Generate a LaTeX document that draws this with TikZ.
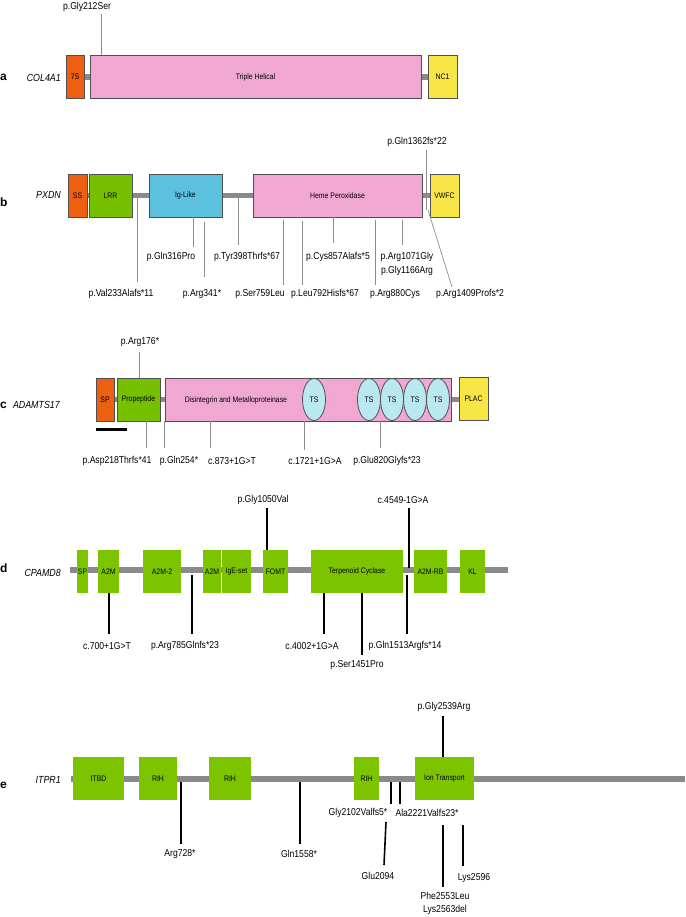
\documentclass[tikz,border=0pt]{standalone}
\usepackage{fontspec}
\setmainfont{Liberation Sans}
\newfontfamily\narrowsans{Liberation Sans}[FakeStretch=0.86]
\usetikzlibrary{shapes.geometric}
\definecolor{domorange}{HTML}{EE6011}
\definecolor{domgreen}{HTML}{77C000}
\definecolor{flatgreen}{HTML}{7DC400}
\definecolor{domblue}{HTML}{5CC0DF}
\definecolor{dompink}{HTML}{F0A8D2}
\definecolor{domyellow}{HTML}{F8E546}
\definecolor{tscyan}{HTML}{B9E8F1}
\definecolor{spinegray}{HTML}{8A8A8A}
\definecolor{mutgray}{HTML}{8C8C8C}
\definecolor{boxline}{HTML}{505050}
\begin{document}
\begin{tikzpicture}[x=1pt, y=-1pt,
  dom/.style={draw=boxline, line width=0.8pt, minimum height=43, inner sep=0, font=\narrowsans\fontsize{8}{9}\selectfont},
  flat/.style={fill=flatgreen, minimum height=43, inner sep=0, font=\narrowsans\fontsize{8}{9}\selectfont},
  ts/.style={ellipse, draw=boxline, line width=0.8pt, fill=tscyan, minimum width=23, minimum height=42, inner sep=0, font=\narrowsans\fontsize{8}{9}\selectfont},
  spine/.style={draw=spinegray, line width=5.5pt},
  thinmut/.style={draw=mutgray, line width=0.7pt},
  thickmut/.style={draw=black, line width=1.6pt},
  lbl/.style={inner sep=0, font=\narrowsans\fontsize{10}{13.5}\selectfont, align=center},
  gene/.style={anchor=east, inner sep=0, font=\narrowsans\itshape\fontsize{10.3}{11}\selectfont},
  panel/.style={anchor=west, inner sep=0, font=\bfseries\fontsize{12}{13}\selectfont}]
\useasboundingbox (0,0) rectangle (685,917);
\node[panel] (pa) at (0,77) {a};
\node[gene] (ga) at (61,78) {COL4A1};
\draw[spine] (84,77) -- (428,77);
\node[dom, fill=domorange, minimum width=18] (s7) at (75,77) {7S};
\node[dom, fill=dompink, minimum width=331] (th) at (255.5,77) {Triple Helical};
\node[dom, fill=domyellow, minimum width=29] (nc1) at (442.5,77) {NC1};
\node[lbl] (gly212) at (87,7) {p.Gly212Ser};
\coordinate (gly212t) at (101,14);
\draw[thinmut] (gly212t) -- (gly212t |- th.north);
\node[panel] (pb) at (0,202) {b};
\node[gene] (gb) at (61,195) {PXDN};
\draw[spine] (87,195.5) -- (430,195.5);
\node[lbl] (gln1362) at (417,142) {p.Gln1362fs*22};
\coordinate (gln1362t) at (426,150);
\coordinate (gln1362b) at (426,210);
\draw[thinmut] (gln1362t) -- (gln1362b);
\node[dom, fill=domorange, minimum width=19] (ss) at (77.5,195.5) {SS};
\node[dom, fill=domgreen, minimum width=43] (lrr) at (110.5,195.5) {LRR};
\node[dom, fill=domblue, minimum width=73] (ig) at (185.5,195.5) {Ig-Like};
\node[dom, fill=dompink, minimum width=169] (heme) at (337.5,195.5) {Heme Peroxidase};
\node[dom, fill=domyellow, minimum width=29] (vwfc) at (444.5,195.5) {VWFC};
\node[lbl] (arg1409) at (470,294) {p.Arg1409Profs*2};
\coordinate (arg1409t) at (428,210);
\coordinate (arg1409b) at (452,287);
\draw[thinmut] (arg1409t) -- (arg1409b);
\node[lbl] (val233) at (121,294) {p.Val233Alafs*11};
\coordinate (val233t) at (137,198);
\coordinate (val233b) at (137,282);
\draw[thinmut] (val233t) -- (val233b);
\node[lbl] (gln316) at (171,257) {p.Gln316Pro};
\coordinate (gln316b) at (193,247);
\draw[thinmut] (gln316b |- ig.south) -- (gln316b);
\node[lbl] (arg341) at (202,294) {p.Arg341*};
\coordinate (arg341t) at (204,222);
\coordinate (arg341b) at (204,277);
\draw[thinmut] (arg341t) -- (arg341b);
\node[lbl] (tyr398) at (247,257) {p.Tyr398Thrfs*67};
\coordinate (tyr398t) at (238,198);
\coordinate (tyr398b) at (238,245);
\draw[thinmut] (tyr398t) -- (tyr398b);
\node[lbl] (ser759) at (260,294) {p.Ser759Leu};
\coordinate (ser759t) at (283,220);
\coordinate (ser759b) at (283,285);
\draw[thinmut] (ser759t) -- (ser759b);
\node[lbl] (leu792) at (325,294) {p.Leu792Hisfs*67};
\coordinate (leu792t) at (302,221);
\coordinate (leu792b) at (302,285);
\draw[thinmut] (leu792t) -- (leu792b);
\node[lbl] (cys857) at (338,257) {p.Cys857Alafs*5};
\coordinate (cys857b) at (333,243);
\draw[thinmut] (cys857b |- heme.south) -- (cys857b);
\node[lbl] (arg880) at (395,294) {p.Arg880Cys};
\coordinate (arg880t) at (375,220);
\coordinate (arg880b) at (375,285);
\draw[thinmut] (arg880t) -- (arg880b);
\node[lbl] (arg1071) at (407,264) {p.Arg1071Gly\\p.Gly1166Arg};
\coordinate (arg1071t) at (402,220);
\coordinate (arg1071b) at (402,245);
\draw[thinmut] (arg1071t) -- (arg1071b);
\node[panel] (pc) at (0,405) {c};
\node[gene] (gc) at (60,405) {ADAMTS17};
\draw[spine] (114,399.5) -- (459,399.5);
\node[dom, fill=domorange, minimum width=18] (sp) at (105,399.5) {SP};
\node[dom, fill=domgreen, minimum width=43] (pro) at (138.5,399.5) {Propeptide};
\node[dom, fill=dompink, minimum width=286] (dis) at (308,399.5) {};
\node[inner sep=0, font=\narrowsans\fontsize{8}{9}\selectfont] (disl) at (236,400) {Disintegrin and Metalloproteinase};
\node[ts] (ts1) at (314,399.5) {TS};
\node[ts] (ts2) at (369,399.5) {TS};
\node[ts] (ts3) at (392,399.5) {TS};
\node[ts] (ts4) at (415,399.5) {TS};
\node[ts] (ts5) at (438,399.5) {TS};
\node[dom, fill=domyellow, minimum width=29] (plac) at (473.5,398.5) {PLAC};
\coordinate (bar0) at (96,429);
\coordinate (bar1) at (127,429);
\draw[line width=3pt] (bar0) -- (bar1);
\node[lbl] (arg176) at (140,342) {p.Arg176*};
\coordinate (arg176t) at (139,352);
\draw[thinmut] (arg176t) -- (arg176t |- pro.north);
\node[lbl] (asp218) at (117,461) {p.Asp218Thrfs*41};
\coordinate (asp218b) at (146,448);
\draw[thinmut] (asp218b |- pro.south) -- (asp218b);
\node[lbl] (gln254) at (179,461) {p.Gln254*};
\coordinate (gln254b) at (164.5,448);
\draw[thinmut] (gln254b |- dis.south) -- (gln254b);
\node[lbl] (c873) at (232,461) {c.873+1G>T};
\coordinate (c873b) at (210,448);
\draw[thinmut] (c873b |- dis.south) -- (c873b);
\node[lbl] (c1721) at (315,461) {c.1721+1G>A};
\coordinate (c1721b) at (304,450);
\draw[thinmut] (c1721b |- dis.south) -- (c1721b);
\node[lbl] (glu820) at (387,461) {p.Glu820Glyfs*23};
\coordinate (glu820b) at (380,448);
\draw[thinmut] (glu820b |- dis.south) -- (glu820b);
\node[panel] (pd) at (0,568) {d};
\node[gene] (gd) at (61,573) {CPAMD8};
\draw[spine] (70,570) -- (508,570);
\node[flat, minimum width=11] (spd) at (82.5,571.5) {SP};
\node[flat, minimum width=21] (a2m) at (108.5,571.5) {A2M};
\node[flat, minimum width=38] (a2mii) at (162,571.5) {A2M-2};
\node[flat, minimum width=18] (a2mb) at (212,571.5) {A2M};
\node[flat, minimum width=29] (ige) at (236.5,571.5) {IgE-set};
\node[flat, minimum width=25] (fomt) at (275.5,571.5) {FOMT};
\node[flat, minimum width=92] (terp) at (357,571.5) {Terpenoid Cyclase};
\node[flat, minimum width=33] (a2mrb) at (430.5,571.5) {A2M-RB};
\node[flat, minimum width=25] (kl) at (472.5,571.5) {KL};
\node[lbl] (gly1050) at (263,500) {p.Gly1050Val};
\coordinate (gly1050t) at (267,508);
\draw[thickmut] (gly1050t) -- (gly1050t |- fomt.north);
\node[lbl] (c4549) at (403,500) {c.4549-1G>A};
\coordinate (c4549t) at (409,508);
\coordinate (c4549b) at (409,568);
\draw[thickmut] (c4549t) -- (c4549b);
\node[lbl] (c700) at (107,646) {c.700+1G>T};
\coordinate (c700b) at (109,634);
\draw[thickmut] (c700b |- a2m.south) -- (c700b);
\node[lbl] (arg785) at (185,646) {p.Arg785Glnfs*23};
\coordinate (arg785t) at (192,575);
\coordinate (arg785b) at (192,634);
\draw[thickmut] (arg785t) -- (arg785b);
\node[lbl] (c4002) at (312,646) {c.4002+1G>A};
\coordinate (c4002b) at (324,634);
\draw[thickmut] (c4002b |- terp.south) -- (c4002b);
\node[lbl] (ser1451) at (357,665) {p.Ser1451Pro};
\coordinate (ser1451b) at (362,655);
\draw[thickmut] (ser1451b |- terp.south) -- (ser1451b);
\node[lbl] (gln1513) at (405,646) {p.Gln1513Argfs*14};
\coordinate (gln1513t) at (407,575);
\coordinate (gln1513b) at (407,634);
\draw[thickmut] (gln1513t) -- (gln1513b);
\node[panel] (pe) at (0,785) {e};
\node[gene] (ge) at (61,780) {ITPR1};
\draw[spine] (71,779) -- (685,779);
\node[flat, minimum width=51] (itbd) at (98.5,778.5) {ITBD};
\node[flat, minimum width=38] (rih1) at (158,778.5) {RIH};
\node[flat, minimum width=42] (rih2) at (230,778.5) {RIH};
\node[flat, minimum width=25] (rih3) at (366.5,778.5) {RIH};
\node[flat, minimum width=59] (ion) at (444.5,778.5) {Ion Transport};
\node[lbl] (gly2539) at (444,707) {p.Gly2539Arg};
\coordinate (gly2539t) at (443,716);
\draw[thickmut] (gly2539t) -- (gly2539t |- ion.north);
\node[lbl] (arg728) at (180,854) {Arg728*};
\coordinate (arg728t) at (181,782);
\coordinate (arg728b) at (181,844);
\draw[thickmut] (arg728t) -- (arg728b);
\node[lbl] (gln1558) at (299,854) {Gln1558*};
\coordinate (gln1558t) at (300,782);
\coordinate (gln1558b) at (300,844);
\draw[thickmut] (gln1558t) -- (gln1558b);
\node[lbl] (gly2102) at (358,813) {Gly2102Valfs5*};
\coordinate (gly2102t) at (391,782);
\coordinate (gly2102b) at (391,804);
\draw[thickmut] (gly2102t) -- (gly2102b);
\node[lbl] (ala2221) at (427,813) {Ala2221Valfs23*};
\coordinate (ala2221t) at (400,782);
\coordinate (ala2221b) at (400,804);
\draw[thickmut] (ala2221t) -- (ala2221b);
\node[lbl] (glu2094) at (378,876) {Glu2094};
\coordinate (glu2094t) at (386,822);
\coordinate (glu2094b) at (384,865);
\draw[thickmut] (glu2094t) -- (glu2094b);
\node[lbl] (phe2553) at (445,903.5) {Phe2553Leu\\Lys2563del};
\coordinate (phe2553t) at (443,825);
\coordinate (phe2553b) at (443,887);
\draw[thickmut] (phe2553t) -- (phe2553b);
\node[lbl] (lys2596) at (474,878) {Lys2596};
\coordinate (lys2596t) at (463,825);
\coordinate (lys2596b) at (463,866);
\draw[thickmut] (lys2596t) -- (lys2596b);
\end{tikzpicture}
\end{document}
